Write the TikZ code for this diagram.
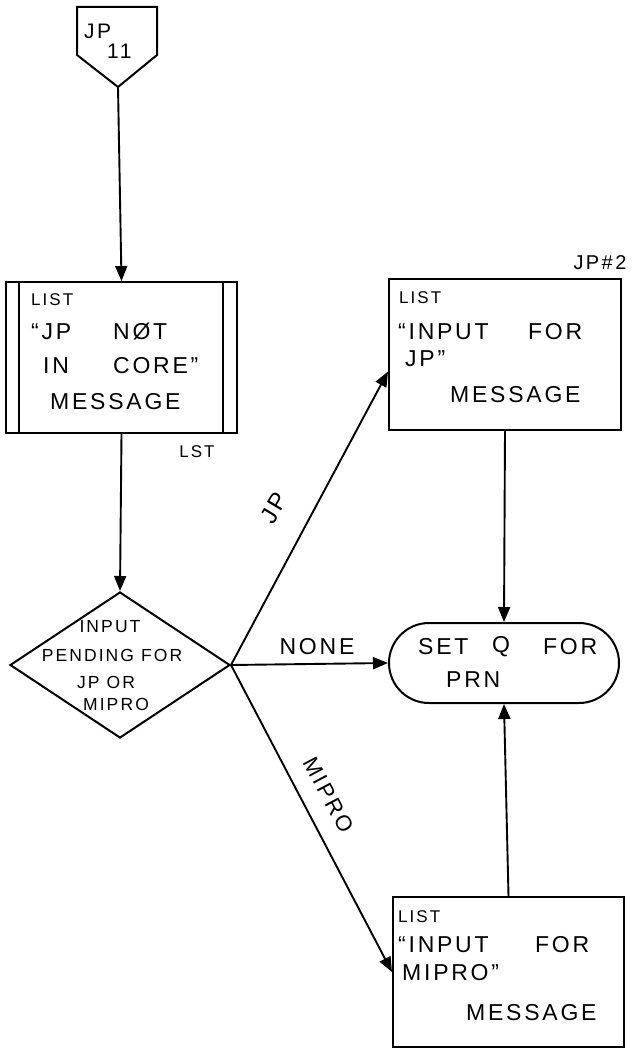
\documentclass[tikz,border=0pt]{standalone}
\usepackage{fontspec}
\setmainfont{Liberation Sans}
\newfontfamily\hand[LetterSpace=12]{Liberation Sans}
\usetikzlibrary{arrows.meta,calc,shapes.geometric}
\begin{document}
\begin{tikzpicture}[x=1pt,y=-1pt,
  boxs/.style={draw, line width=2pt, inner sep=0pt},
  arr/.style={-{Triangle[length=15pt,width=12pt]}, line width=1.9pt},
  big/.style={font=\hand\fontsize{23}{25}\selectfont, inner sep=0pt, anchor=west},
  med/.style={font=\hand\fontsize{17.5}{20}\selectfont, inner sep=0pt},
  sml/.style={font=\hand\fontsize{17}{19}\selectfont, inner sep=0pt, anchor=west},
  lbl/.style={font=\hand\fontsize{22}{24}\selectfont, inner sep=0pt}]
\useasboundingbox (0,0) rectangle (644,1049);
\fill[white] (0,0) rectangle (644,1049);

% off-page connector
\draw[line width=2pt, line join=miter] (77,7) -- (157,7) -- (157,55) -- (118,87) -- (77,55) -- cycle;
\coordinate (cb) at (118,87);
\node[med, anchor=west, font=\hand\fontsize{21}{23}\selectfont] (ct1) at (84,31) {JP};
\node[med, anchor=west, font=\hand\fontsize{21}{23}\selectfont] (ct2) at (107,51) {11};

% LIST box (predefined process)
\node[boxs, minimum width=231pt, minimum height=151pt] (list1) at (121.5,357.5) {};
\draw[line width=2pt] ($(list1.north west)+(14,0)$) -- ($(list1.south west)+(14,0)$);
\draw[line width=2pt] ($(list1.north east)+(-15,0)$) -- ($(list1.south east)+(-15,0)$);
\node[sml] (l1a) at (31,300) {LIST};
\node[big] (l1b) at (31,332) {“JP};
\node[big] (l1c) at (113,332) {NØT};
\node[big] (l1d) at (43,366) {IN};
\node[big] (l1e) at (113,366) {CORE”};
\node[big] (l1f) at (50,402) {MESSAGE};
\node[lbl, font=\hand\fontsize{17}{19}\selectfont] (lstl) at (197,452) {LST};

% JP box
\node[boxs, minimum width=232pt, minimum height=151pt] (box2) at (505,354.5) {};
\node[sml] (b2a) at (399,298) {LIST};
\node[big] (b2b) at (398,332) {“INPUT};
\node[big] (b2c) at (528,332) {FOR};
\node[big] (b2d) at (405,359) {JP”};
\node[big] (b2e) at (450,395) {MESSAGE};
\node[lbl, font=\hand\fontsize{20}{22}\selectfont] (lab2) at (600,263) {JP\#2};

% decision
\node[draw, diamond, minimum width=220pt, minimum height=146pt, inner sep=0pt, line width=2pt] (dia) at (120,665) {};
\node[med] (d1) at (110,627) {INPUT};
\node[med] (d2) at (112,655) {PENDING FOR};
\node[med] (d3) at (106,682) {JP OR};
\node[med] (d4) at (116,704) {MIPRO};

% terminal
\node[draw, rounded corners=40pt, minimum width=230pt, minimum height=80pt, line width=2pt, inner sep=0pt] (rr) at (504,663) {};
\node[big] (r1) at (418,647) {SET};
\node[big] (r2) at (492,647) {Q};
\node[big] (r3) at (543,647) {FOR};
\node[big] (r4) at (446,680) {PRN};

% MIPRO box
\node[boxs, minimum width=231pt, minimum height=150pt] (box3) at (508.5,972) {};
\node[sml] (b3a) at (398,917) {LIST};
\node[big] (b3b) at (398,945) {“INPUT};
\node[big] (b3c) at (535,945) {FOR};
\node[big] (b3d) at (402,973) {MIPRO”};
\node[big] (b3e) at (466,1013) {MESSAGE};

% connectors
\draw[arr] (cb) -- (list1.north);
\draw[arr] (list1.south) -- (dia.north);
\draw[arr] (dia.east) -- ($(box2.west)+(0,17)$);
\draw[arr] (dia.east) -- (rr.west);
\draw[arr] (dia.east) -- (box3.west);
\draw[arr] (box2.south) -- (rr.north);
\draw[arr] (box3.north) -- (rr.south);

% branch labels
\node[lbl, font=\hand\fontsize{24}{26}\selectfont, rotate=59] (jpl) at (274,508) {JP};
\node[lbl, font=\hand\fontsize{23}{25}\selectfont] (nonel) at (317,647) {NONE};
\node[lbl, font=\hand\fontsize{22}{24}\selectfont, rotate=-62] (mipl) at (329,795) {MIPRO};
\end{tikzpicture}
\end{document}
